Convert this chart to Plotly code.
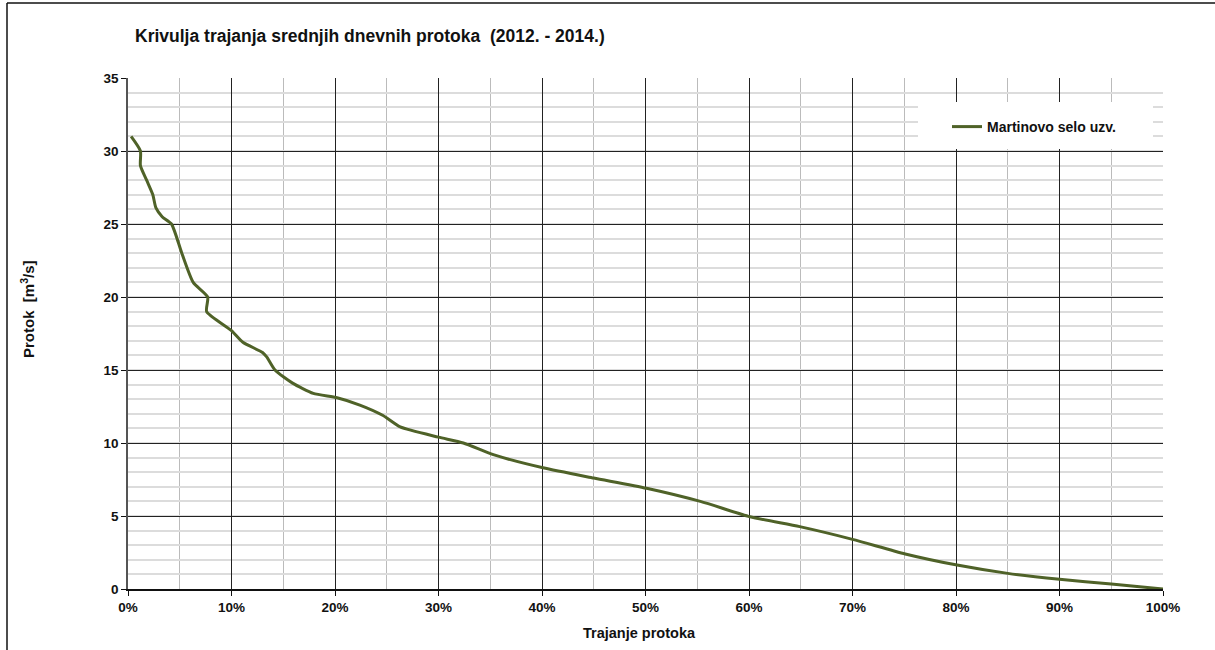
import plotly.graph_objects as go

# Flow duration curve: share of time (fraction) vs. mean daily discharge (m3/s)
trajanje = [0.003, 0.012, 0.012, 0.018, 0.024, 0.027, 0.033, 0.042, 0.052, 0.063,
            0.077, 0.076, 0.100, 0.111, 0.130, 0.134, 0.142, 0.159, 0.179, 0.202,
            0.224, 0.246, 0.263, 0.300, 0.324, 0.353, 0.401, 0.450, 0.501, 0.553,
            0.601, 0.649, 0.700, 0.751, 0.801, 0.850, 0.900, 0.950, 1.000]
protok = [31.0, 30.0, 29.0, 28.0, 27.0, 26.1, 25.5, 25.0, 23.0, 21.0,
          20.0, 19.0, 17.7, 16.9, 16.2, 15.9, 15.0, 14.1, 13.4, 13.1,
          12.6, 11.9, 11.1, 10.4, 10.0, 9.2, 8.3, 7.6, 6.9, 6.0,
          4.95, 4.27, 3.4, 2.4, 1.64, 1.07, 0.66, 0.34, 0.0]

serija = "Martinovo selo uzv."
x_ticks = [i / 10 for i in range(11)]
y_ticks = list(range(0, 36, 5))

FONT = "Liberation Sans, Arial, sans-serif"
W, H = 1215, 650
L, R, T, B = 128, 52, 78, 61
pw, ph = W - L - R, H - T - B


def px_x(p):
    return (p - L) / pw


def px_y(p):
    return (H - B - p) / ph


fig = go.Figure()
fig.add_trace(go.Scatter(
    x=trajanje, y=protok, mode="lines", name=f"<b>{serija}</b>",
    line=dict(color="#4F6228", width=3, shape="spline", smoothing=0.6),
))

fig.update_layout(
    width=W, height=H,
    margin=dict(l=L, r=R, t=T, b=B),
    paper_bgcolor="white", plot_bgcolor="white",
    font=dict(family=FONT, color="#111", size=12),
    title=dict(
        text="<b>Krivulja trajanja srednjih dnevnih protoka  (2012. - 2014.)</b>",
        x=135 / W, xref="container", xanchor="left",
        y=1 - 36 / H, yref="container", yanchor="middle",
        font=dict(family=FONT, size=17.5, color="#111"),
    ),
    showlegend=True,
    legend=dict(
        x=px_x(947), y=px_y(127), xanchor="left", yanchor="middle",
        bgcolor="rgba(0,0,0,0)", borderwidth=0,
        font=dict(family=FONT, size=14, color="#111"),
        itemwidth=30,
    ),
    xaxis=dict(
        range=[0, 1], tickvals=x_ticks, tickformat=".0%",
        showgrid=True, gridcolor="#222", gridwidth=1,
        minor=dict(dtick=0.05, showgrid=True, gridcolor="#bbbbbb", gridwidth=1),
        showline=True, linecolor="#111", linewidth=1.5,
        ticks="outside", ticklen=5, tickcolor="#111",
        tickfont=dict(family=FONT, size=13.5, color="#111", weight="bold"),
        zeroline=False, fixedrange=True,
    ),
    yaxis=dict(
        range=[0, 35], tickvals=y_ticks,
        showgrid=True, gridcolor="#222", gridwidth=1,
        minor=dict(dtick=1, showgrid=True, gridcolor="#dcdcdc", gridwidth=1.5),
        showline=True, linecolor="#555", linewidth=1.5,
        ticks="outside", ticklen=5, tickcolor="#111",
        tickfont=dict(family=FONT, size=13.5, color="#111", weight="bold"),
        zeroline=False, fixedrange=True,
    ),
    shapes=[
        # white legend panel over the grid
        dict(type="rect", xref="paper", yref="paper", layer="above",
             x0=px_x(918), x1=px_x(1153), y0=px_y(149), y1=px_y(102),
             fillcolor="white", line=dict(width=0)),
        # outer frame (left and top edges)
        dict(type="line", xref="paper", yref="paper",
             x0=px_x(7), x1=px_x(7), y0=px_y(3), y1=px_y(H + 5),
             line=dict(color="#111", width=1.5)),
        dict(type="line", xref="paper", yref="paper",
             x0=px_x(7), x1=px_x(W + 5), y0=px_y(3), y1=px_y(3),
             line=dict(color="#111", width=1.5)),
    ],
    annotations=[
        dict(text="<b>Trajanje protoka</b>", xref="paper", yref="paper",
             x=px_x(639), y=px_y(633), showarrow=False,
             xanchor="center", yanchor="middle",
             font=dict(family=FONT, size=14.5, color="#111")),
        dict(text="<b>Protok  [m<sup>3</sup>/s]</b>", xref="paper", yref="paper",
             x=px_x(27), y=px_y(309), showarrow=False, textangle=-90,
             xanchor="center", yanchor="middle",
             font=dict(family=FONT, size=15, color="#111")),
    ],
)

fig.write_html("out.html")
